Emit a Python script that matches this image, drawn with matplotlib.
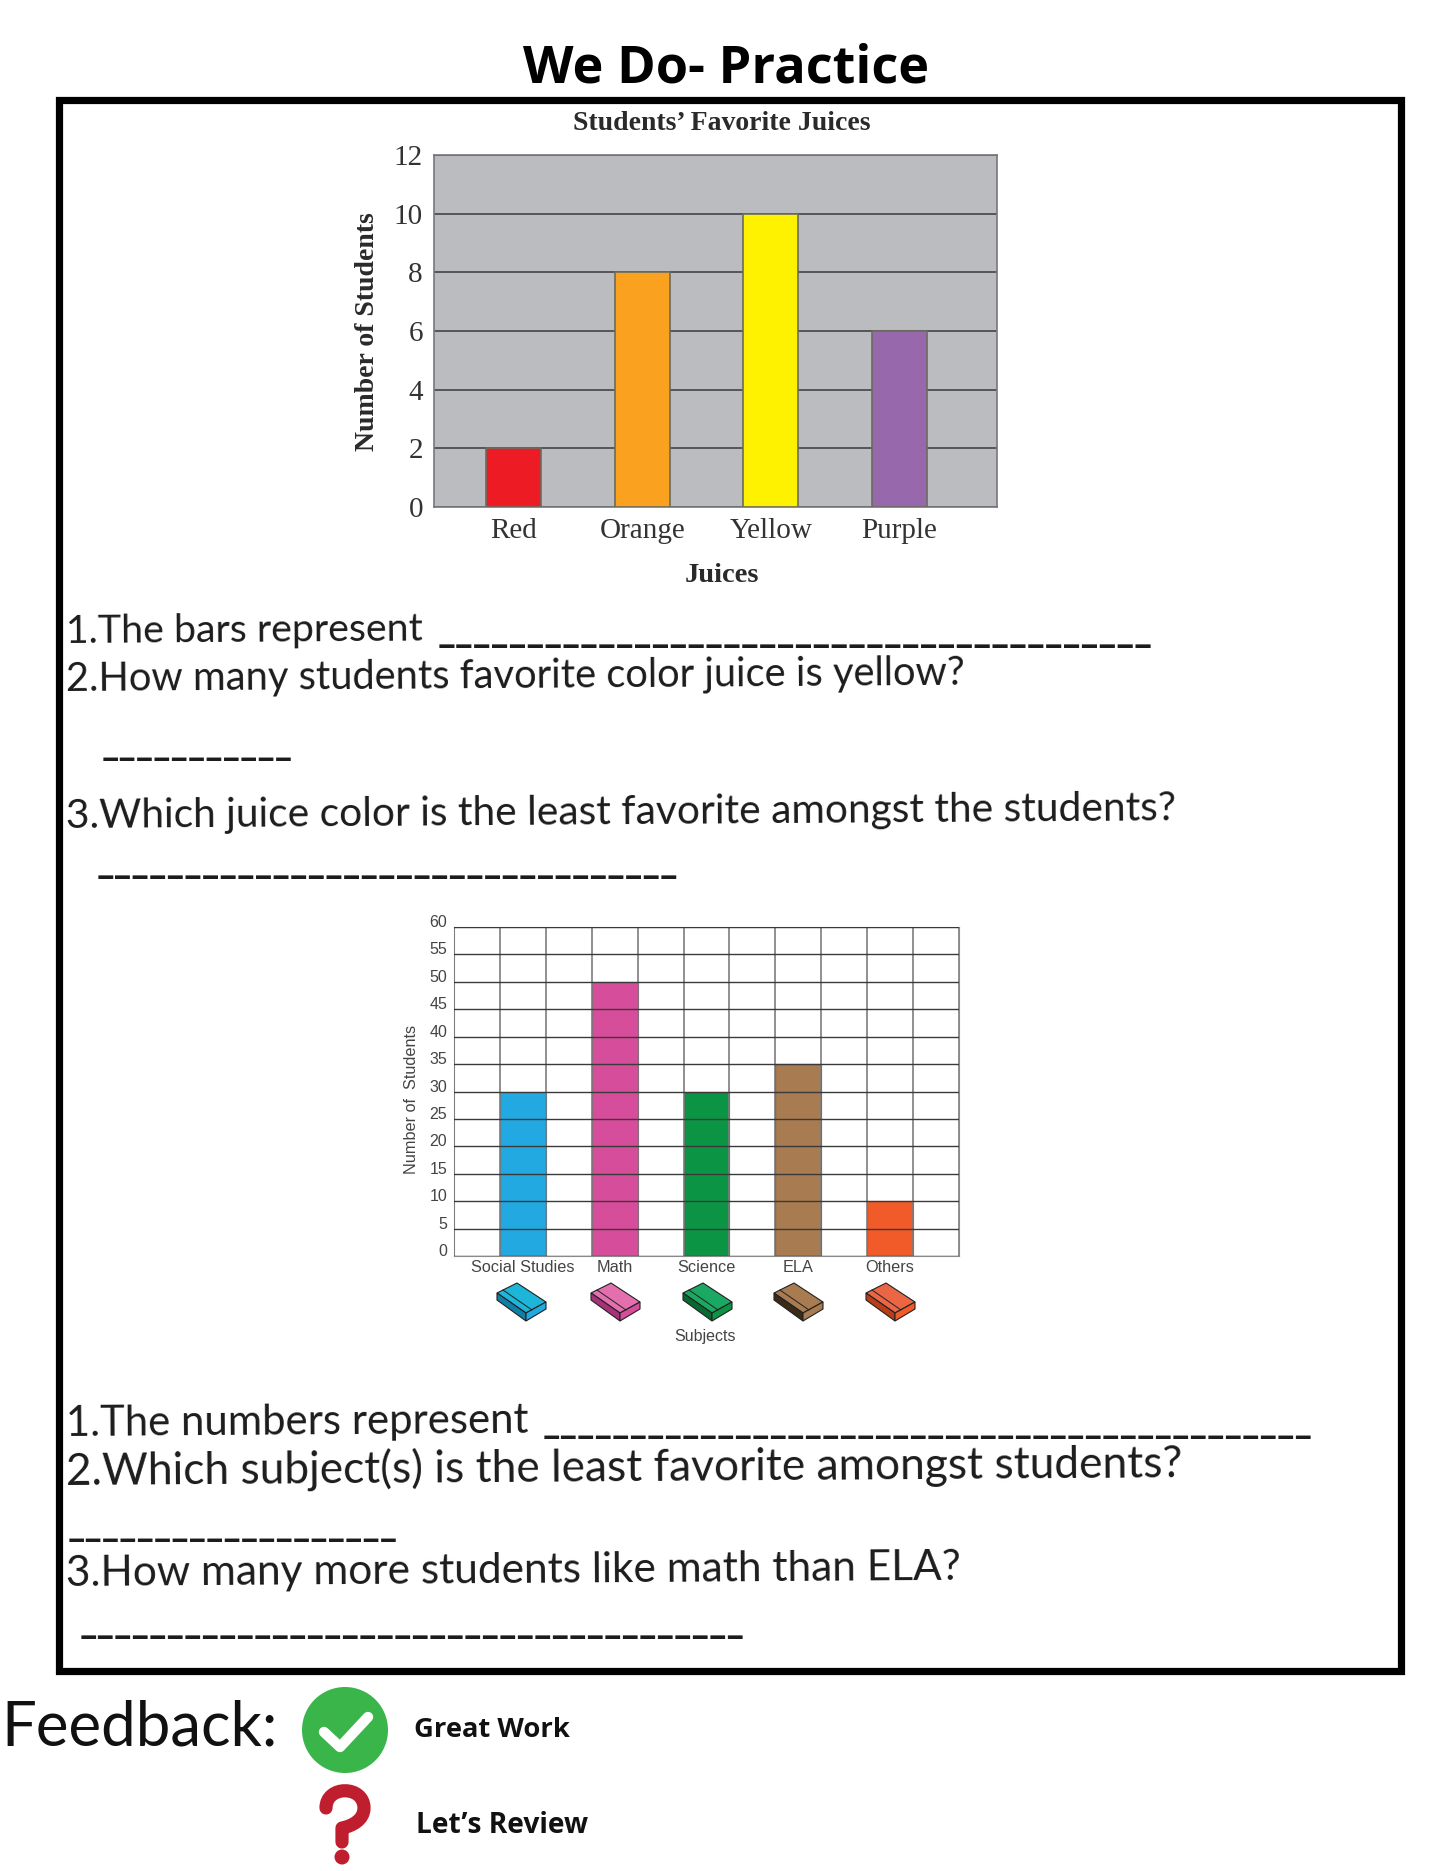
import matplotlib
matplotlib.use("Agg")
import matplotlib.pyplot as plt
from matplotlib.patches import Polygon, Ellipse, Rectangle, PathPatch
from matplotlib.path import Path
from matplotlib.transforms import ScaledTranslation

W, H = 1445, 1871
juice_names = ["Red", "Orange", "Yellow", "Purple"]
juice_values = [2, 8, 10, 6]
juice_colors = ["#ED1C24", "#FAA21F", "#FFF200", "#9768AB"]
juice_ticks = [0, 2, 4, 6, 8, 10, 12]

subject_names = ["Social Studies", "Math", "Science", "ELA", "Others"]
subject_values = [30, 50, 30, 35, 10]
subject_colors = ["#22A9E1", "#D64D9B", "#0B9444", "#A87B50", "#F15A29"]
subject_dark = ["#0F7FA8", "#A8327A", "#066A30", "#3A2A18", "#B93E18"]
subject_light = ["#1DB5D8", "#E36FAE", "#1BA862", "#A87B50", "#EA6644"]
subject_ticks = list(range(0, 65, 5))

fig = plt.figure(figsize=(W / 100, H / 100), dpi=100, facecolor="white")
bg = fig.add_axes([0, 0, 1, 1])
bg.set_xlim(0, W)
bg.set_ylim(H, 0)
bg.axis("off")


def pax(x0, y0, x1, y1):
    return fig.add_axes([x0 / W, 1 - y1 / H, (x1 - x0) / W, (y1 - y0) / H])


def fit(x0, x1, y, s, size, family, weight="normal", color="black", rot=0):
    t = bg.text(x0, y, s, fontsize=size, family=family, weight=weight, color=color,
                ha="left", va="baseline", rotation=rot, rotation_mode="anchor")
    r = fig.canvas.get_renderer()
    t.set_rotation(0)
    w = t.get_window_extent(r).width
    t.set_fontsize(size * (x1 - x0) / w)
    t.set_rotation(rot)
    return t


bg.add_patch(Rectangle((59, 100), 1342, 1571, fill=False, ec="black", lw=5.2))
fit(523, 929, 82, "We Do- Practice", 36, "Open Sans", "bold")

# ---- juice chart
ax = pax(434, 155, 997, 507)
ax.set_facecolor("#BBBCBF")
xs = list(range(len(juice_names)))
ax.bar(xs, juice_values, width=0.43, color=juice_colors, edgecolor="#6B6B60", lw=1.2, zorder=3)
ax.set_xlim(-0.62, 3.76)
ax.set_ylim(0, 12)
ax.set_yticks(juice_ticks)
ax.set_xticks(xs, juice_names)
ax.grid(axis="y", color="#55565A", lw=1.4, zorder=1)
ax.set_axisbelow(True)
for s in ax.spines.values():
    s.set_color("#77787B")
    s.set_linewidth(1.2)
ax.tick_params(length=0, labelsize=21, labelcolor="#333333")
ax.tick_params(axis="x", pad=8)
ax.tick_params(axis="y", pad=8)
for l in ax.get_xticklabels() + ax.get_yticklabels():
    l.set_family("Liberation Serif")
bg.text(722, 123, "Students’ Favorite Juices", family="Liberation Serif", weight="bold",
        fontsize=20, ha="center", va="center", color="#2a2a2a")
bg.text(722, 576, "Juices", family="Liberation Serif", weight="bold",
        fontsize=20.5, ha="center", va="center", color="#2a2a2a")
bg.text(368, 332, "Number of Students", family="Liberation Serif", weight="bold",
        fontsize=20, ha="center", va="center", rotation=90, color="#2a2a2a")

# ---- subject chart
ax2 = pax(454, 927, 959, 1256)
pos = [1.5, 3.5, 5.5, 7.5, 9.5]
ax2.bar(pos, subject_values, width=1.0, color=subject_colors, edgecolor=subject_dark, lw=0.8, zorder=2)
ax2.set_xlim(0, 11)
ax2.set_ylim(0, 60)
ax2.set_yticks(subject_ticks)
ax2.set_xticks(pos, subject_names)
ax2.set_xticks(range(12), minor=True)
ax2.grid(axis="y", color="#3a3a3a", lw=1.0)
ax2.grid(axis="x", which="minor", color="#7d7d7d", lw=1.2)
ax2.set_axisbelow(False)
for s in ax2.spines.values():
    s.set_color("#8a8a8a")
ax2.tick_params(which="both", length=0)
ax2.tick_params(axis="x", labelsize=11.7, pad=3, labelcolor="#444444")
ax2.tick_params(axis="y", labelsize=11.5, pad=5, labelcolor="#444444")
shift = ScaledTranslation(0, 6 / 100, fig.dpi_scale_trans)
for l in ax2.get_yticklabels():
    l.set_transform(l.get_transform() + shift)
for l in ax2.get_xticklabels() + ax2.get_yticklabels():
    l.set_family("Liberation Sans")
bg.text(705, 1336, "Subjects", family="Liberation Sans", fontsize=11.5, ha="center", va="center", color="#444444")
bg.text(412, 1099, "Number of  Students", family="Liberation Sans", fontsize=11.7, ha="center", va="center",
        rotation=90, color="#444444")

# book icons (decoration below the axis)
for cx, c, d, li in zip([522, 616, 708, 799, 891], subject_colors, subject_dark, subject_light):
    cy = 1302
    top = [(cx - 25, cy - 9), (cx - 5, cy - 19), (cx + 24, cy), (cx + 4, cy + 11)]
    side1 = [(cx - 25, cy - 9), (cx + 4, cy + 11), (cx + 4, cy + 19), (cx - 25, cy - 2)]
    side2 = [(cx + 4, cy + 11), (cx + 24, cy), (cx + 24, cy + 7), (cx + 4, cy + 19)]
    bg.add_patch(Polygon(top, fc=li, ec="#222222", lw=0.8))
    bg.add_patch(Polygon(side1, fc=d, ec="#222222", lw=0.8))
    bg.add_patch(Polygon(side2, fc=c, ec="#222222", lw=0.8))
    bg.plot([cx - 19, cx + 10], [cy - 12, cy + 8], color="#222222", lw=0.7)

# ---- worksheet text
font = "Lato"
ink = "#1c1c1c"
lines = [
    (66, 423, 643, "1.The bars represent"),
    (66, 965, 691, "2.How many students favorite color juice is yellow?"),
    (66, 1174, 828, "3.Which juice color is the least favorite amongst the students?"),
    (66, 526, 1436, "1.The numbers represent"),
    (66, 1178, 1485, "2.Which subject(s) is the least favorite amongst students?"),
    (66, 961, 1586, "3.How many more students like math than ELA?"),
]
for x0, x1, y, s in lines:
    fit(x0, x1, y, s, 26, font, color=ink, rot=0.4)

blanks = [
    (438, 1158, 642, 40),
    (102, 294, 756, 11),
    (97, 680, 873, 33),
    (543, 1315, 1434, 44),
    (68, 400, 1537, 19),
    (80, 748, 1633, 38),
]
for x0, x1, y, n in blanks:
    fit(x0, x1, y, "_" * n, 24, font, "bold", ink)

# ---- feedback
fit(1, 277, 1745, "Feedback:", 40, "Lato", "normal", "#111111")
bg.add_patch(Ellipse((345, 1730), 86, 86, fc="#39B54A", ec="none"))
bg.plot([324, 340, 368], [1732, 1747, 1717], color="white", lw=7.5,
        solid_capstyle="round", solid_joinstyle="round")
fit(414, 570, 1737, "Great Work", 20, "Open Sans", "bold", "#111111")
fit(416, 588, 1833, "Let’s Review", 20, "Open Sans", "bold", "#111111")

# question-mark icon
qm = Path([(326, 1808), (326, 1785), (364, 1785), (364, 1808), (364, 1820), (352, 1826), (342, 1828), (342, 1842)],
          [Path.MOVETO, Path.CURVE4, Path.CURVE4, Path.CURVE4, Path.CURVE4, Path.CURVE4, Path.CURVE4, Path.LINETO])
bg.add_patch(PathPatch(qm, fc="none", ec="#BE1E2D", lw=9.5, capstyle="round", joinstyle="round"))
bg.add_patch(Ellipse((342, 1857), 15, 15, fc="#BE1E2D", ec="none"))

fig.savefig("out.png", dpi=100, facecolor="white")
